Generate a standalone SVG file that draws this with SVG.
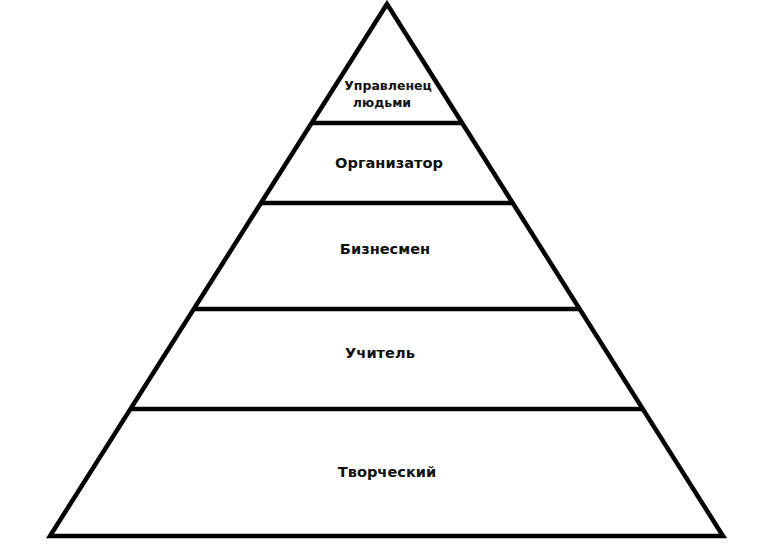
<svg xmlns="http://www.w3.org/2000/svg" width="781" height="549" viewBox="0 0 781 549">
<style>
.ln{stroke:#000;stroke-width:4.5;fill:none}
.t{font-family:"DejaVu Sans","Liberation Sans",sans-serif;font-weight:bold;font-size:14.6px;fill:#111;text-anchor:middle}
.s{font-size:12.5px}
</style>
<rect width="781" height="549" fill="#fff"/>
<g id="connectors">
<polygon class="ln" points="387,4 50,536 723,536" stroke-linejoin="miter"/>
<line class="ln" x1="311" y1="123" x2="463" y2="123"/>
<line class="ln" x1="260" y1="203" x2="514" y2="203"/>
<line class="ln" x1="193" y1="309" x2="581" y2="309"/>
<line class="ln" x1="130" y1="409" x2="644" y2="409"/>
</g>
<g id="n1"><text class="t s" x="388" y="90">Управленец</text><text class="t s" x="382" y="107">людьми</text></g>
<g id="n2"><text class="t" x="389" y="168">Организатор</text></g>
<g id="n3"><text class="t" x="385" y="254">Бизнесмен</text></g>
<g id="n4"><text class="t" x="380" y="358">Учитель</text></g>
<g id="n5"><text class="t" x="387" y="477">Творческий</text></g>
</svg>
